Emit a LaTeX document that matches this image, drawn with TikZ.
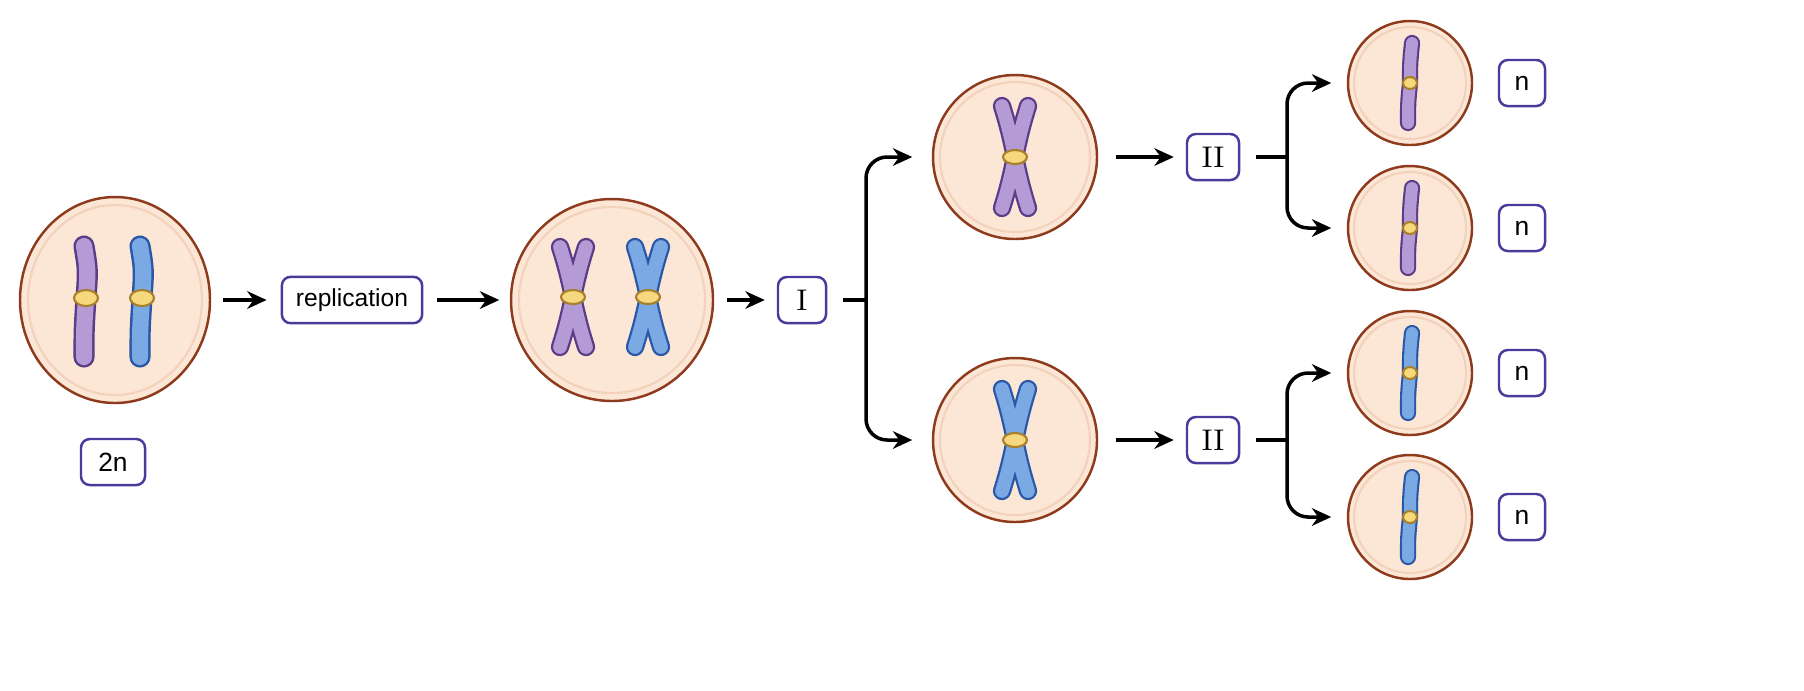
\documentclass[tikz,border=0pt]{standalone}
\usepackage{fontspec}
\usetikzlibrary{shapes.geometric,arrows.meta}
\newfontfamily\lsans{Liberation Sans}
\begin{document}
\definecolor{cellfill}{HTML}{FCE6D6}
\definecolor{cellring}{HTML}{F3D2BC}
\definecolor{celledge}{HTML}{8E3A1C}
\definecolor{pfill}{HTML}{B59BD6}
\definecolor{pedge}{HTML}{5A3C88}
\definecolor{bfill}{HTML}{7AA9E4}
\definecolor{bedge}{HTML}{2A58A6}
\definecolor{cfill}{HTML}{F6D87E}
\definecolor{cedge}{HTML}{A8802A}
\definecolor{boxedge}{HTML}{4B3A9C}
\begin{tikzpicture}[x=0.01cm,y=-0.01cm,
  cell/.style={draw=celledge,fill=cellfill,line width=0.7pt},
  ring/.style={draw=cellring,line width=0.6pt},
  lab/.style={draw=boxedge,line width=0.7pt,rounded corners=2.5pt,fill=white,minimum height=0.46cm,inner xsep=4pt},
  arr/.style={-{Stealth[length=5.5pt,width=5pt]},line width=1pt},
  co/.style={line width=#1,line cap=round},
  cen/.style={draw=cedge,fill=cfill,line width=0.6pt}]
\useasboundingbox (0,0) rectangle (1804,690);
% cells
\node[ellipse,minimum width=1.90cm,minimum height=2.06cm,inner sep=0pt] (A) at (115,300) {};
\draw[cell] (115,300) ellipse (95 and 103); \draw[ring] (115,300) ellipse (87 and 95);
\node[inner sep=0pt,minimum size=2cm,circle] (B) at (612,300) {};
\draw[cell] (612,300) circle (101); \draw[ring] (612,300) circle (93);
\node[inner sep=0pt,minimum size=1.64cm,circle] (C1) at (1015,157) {};
\draw[cell] (1015,157) circle (82); \draw[ring] (1015,157) circle (75);
\node[inner sep=0pt,minimum size=1.64cm,circle] (C2) at (1015,440) {};
\draw[cell] (1015,440) circle (82); \draw[ring] (1015,440) circle (75);
\foreach \n/\y in {D1/83,D2/228,D3/373,D4/517}{
  \node[inner sep=0pt,minimum size=1.24cm,circle] (\n) at (1410,\y) {};
  \draw[cell] (1410,\y) circle (62); \draw[ring] (1410,\y) circle (56);}
% cell A chromosomes
\foreach \x/\ce/\cf in {86/pedge/pfill,142/bedge/bfill}{
  \draw[co=6pt,draw=\ce] (\x-2,246) .. controls (\x+2,270) .. (\x,298) .. controls (\x-2,330) .. (\x-2,357);
  \draw[co=4.6pt,draw=\cf] (\x-2,246) .. controls (\x+2,270) .. (\x,298) .. controls (\x-2,330) .. (\x-2,357);
  \draw[cen] (\x,298) ellipse (12 and 8);}
% X chromosomes
\newcommand\xchrom[5]{%
  \foreach \s in {-1,1}{\draw[co=5.2pt,draw=#5edge] (#1-\s*#4,#2-#3) .. controls (#1,#2-10) and (#1,#2+10) .. (#1+\s*#4,#2+#3);}%
  \foreach \s in {-1,1}{\draw[co=3.9pt,draw=#5fill] (#1-\s*#4,#2-#3) .. controls (#1,#2-10) and (#1,#2+10) .. (#1+\s*#4,#2+#3);}%
  \draw[cen] (#1,#2) ellipse (12 and 7);}
\xchrom{573}{297}{50}{13}{p}
\xchrom{648}{297}{50}{13}{b}
\xchrom{1015}{157}{51}{13}{p}
\xchrom{1015}{440}{51}{13}{b}
% single chromatids
\foreach \y/\ce/\cf in {83/pedge/pfill,228/pedge/pfill,373/bedge/bfill,517/bedge/bfill}{
  \draw[co=4.6pt,draw=\ce] (1412,\y-40) .. controls (1410,\y-20) .. (1410,\y) .. controls (1408,\y+20) .. (1408,\y+40);
  \draw[co=3.4pt,draw=\cf] (1412,\y-40) .. controls (1410,\y-20) .. (1410,\y) .. controls (1408,\y+20) .. (1408,\y+40);
  \draw[cen] (1410,\y) ellipse (7 and 6);}
% labels
\node[lab,font=\lsans\fontsize{7.5}{9}\selectfont,minimum width=0.64cm] (L2n) at (113,462) {2n};
\node[lab,font=\lsans\fontsize{7}{9}\selectfont,minimum width=1.40cm] (rep) at (352,300) {replication};
\node[lab,font=\fontsize{8.5}{10}\selectfont,minimum width=0.48cm] (I) at (802,300) {I};
\node[lab,font=\fontsize{8.5}{10}\selectfont,minimum width=0.52cm] (II1) at (1213,157) {II};
\node[lab,font=\fontsize{8.5}{10}\selectfont,minimum width=0.52cm] (II2) at (1213,440) {II};
\foreach \n/\y in {1/83,2/228,3/373,4/517}
  \node[lab,font=\lsans\fontsize{7.5}{9}\selectfont,minimum width=0.46cm] (n\n) at (1522,\y) {n};
% connectors
\draw[arr] ([xshift=0.12cm]A.east) -- ([xshift=-0.14cm]rep.west);
\draw[arr] ([xshift=0.14cm]rep.east) -- ([xshift=-0.12cm]B.west);
\draw[arr] ([xshift=0.14cm]B.east) -- ([xshift=-0.12cm]I.west);
\coordinate (jI) at (866,300);
\draw[line width=1pt] ([xshift=0.16cm]I.east) -- (jI);
\draw[arr,rounded corners=6pt] (jI) |- ([xshift=-0.2cm]C1.west);
\draw[arr,rounded corners=6pt] (jI) |- ([xshift=-0.2cm]C2.west);
\draw[arr] ([xshift=0.18cm]C1.east) -- ([xshift=-0.12cm]II1.west);
\draw[arr] ([xshift=0.18cm]C2.east) -- ([xshift=-0.12cm]II2.west);
\coordinate (j1) at (1287,157); \coordinate (j2) at (1287,440);
\draw[line width=1pt] ([xshift=0.16cm]II1.east) -- (j1);
\draw[line width=1pt] ([xshift=0.16cm]II2.east) -- (j2);
\draw[arr,rounded corners=6pt] (j1) |- ([xshift=-0.16cm]D1.west);
\draw[arr,rounded corners=6pt] (j1) |- ([xshift=-0.16cm]D2.west);
\draw[arr,rounded corners=6pt] (j2) |- ([xshift=-0.16cm]D3.west);
\draw[arr,rounded corners=6pt] (j2) |- ([xshift=-0.16cm]D4.west);
\end{tikzpicture}
\end{document}
